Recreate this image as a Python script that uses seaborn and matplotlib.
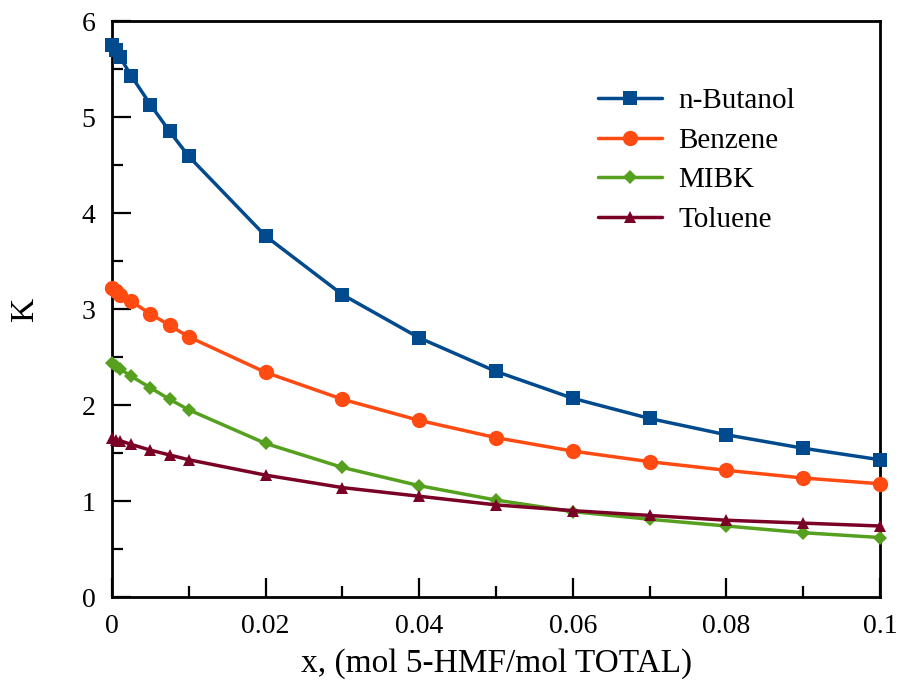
import numpy as np
import pandas as pd
import matplotlib
matplotlib.use('Agg')
import matplotlib.pyplot as plt
from matplotlib.ticker import MultipleLocator, FuncFormatter
import seaborn as sns

x_vals = [0, 0.0005, 0.001, 0.0025, 0.005, 0.0075, 0.01,
          0.02, 0.03, 0.04, 0.05, 0.06, 0.07, 0.08, 0.09, 0.1]

butanol = [5.75, 5.70, 5.63, 5.43, 5.13, 4.85, 4.59,
           3.76, 3.15, 2.70, 2.35, 2.07, 1.86, 1.69, 1.55, 1.43]
benzene = [3.22, 3.19, 3.15, 3.08, 2.95, 2.83, 2.71,
           2.34, 2.06, 1.84, 1.66, 1.52, 1.41, 1.32, 1.24, 1.18]
mibk = [2.44, 2.41, 2.38, 2.30, 2.18, 2.06, 1.95,
        1.60, 1.35, 1.16, 1.01, 0.89, 0.81, 0.74, 0.67, 0.62]
toluene = [1.66, 1.64, 1.63, 1.59, 1.53, 1.48, 1.43,
           1.27, 1.14, 1.05, 0.96, 0.90, 0.85, 0.80, 0.77, 0.74]

solvents = ['n-Butanol', 'Benzene', 'MIBK', 'Toluene']
colors = ['#004a8d', '#ff4a12', '#55a01e', '#7b0025']
markers = ['s', 'o', 'D', '^']
marker_sizes = [10, 11, 7, 8.5]

sns.set_theme(style='white')
plt.rcParams['font.family'] = ['Liberation Serif', 'DejaVu Serif']
plt.rcParams['text.color'] = 'black'
plt.rcParams['axes.labelcolor'] = 'black'
plt.rcParams['xtick.color'] = 'black'
plt.rcParams['ytick.color'] = 'black'

df = pd.concat([pd.DataFrame({'x': x_vals, 'K': vals, 'solvent': name})
                for name, vals in zip(solvents, [butanol, benzene, mibk, toluene])])

fig, ax = plt.subplots(figsize=(8.99, 6.80), dpi=100)

for name, col, mk, ms in zip(solvents, colors, markers, marker_sizes):
    sns.lineplot(data=df[df['solvent'] == name], x='x', y='K', color=col,
                 marker=mk, markersize=ms, markeredgewidth=0, linewidth=2.5,
                 label=name, ax=ax, clip_on=False, zorder=3)

ax.set_xlim(0, 0.1)
ax.set_ylim(0, 6)
ax.xaxis.set_major_locator(MultipleLocator(0.02))
ax.xaxis.set_minor_locator(MultipleLocator(0.01))
ax.yaxis.set_major_locator(MultipleLocator(1))
ax.yaxis.set_minor_locator(MultipleLocator(0.5))
ax.xaxis.set_major_formatter(FuncFormatter(lambda v, p: '0' if v == 0 else ('%g' % round(v, 3))))
ax.tick_params(which='major', direction='in', length=14, width=1.6,
               labelsize=20, pad=12, bottom=True, left=True, top=False, right=False)
ax.tick_params(which='minor', direction='in', length=8, width=1.6,
               bottom=True, left=True, top=False, right=False)
for s in ax.spines.values():
    s.set_linewidth(2)
    s.set_color('black')

ax.set_xlabel('x, (mol 5-HMF/mol TOTAL)', fontsize=24, labelpad=7)
ax.set_ylabel('K', fontsize=24, labelpad=30)

leg = ax.legend(loc='upper left', bbox_to_anchor=(0.633, 0.884), frameon=False,
                fontsize=21, handlelength=2.2, labelspacing=0.45, handletextpad=0.55,
                borderpad=0, borderaxespad=0)

plt.subplots_adjust(left=0.1246, right=0.979, top=0.969, bottom=0.122)
plt.savefig('out.png', dpi=100)
